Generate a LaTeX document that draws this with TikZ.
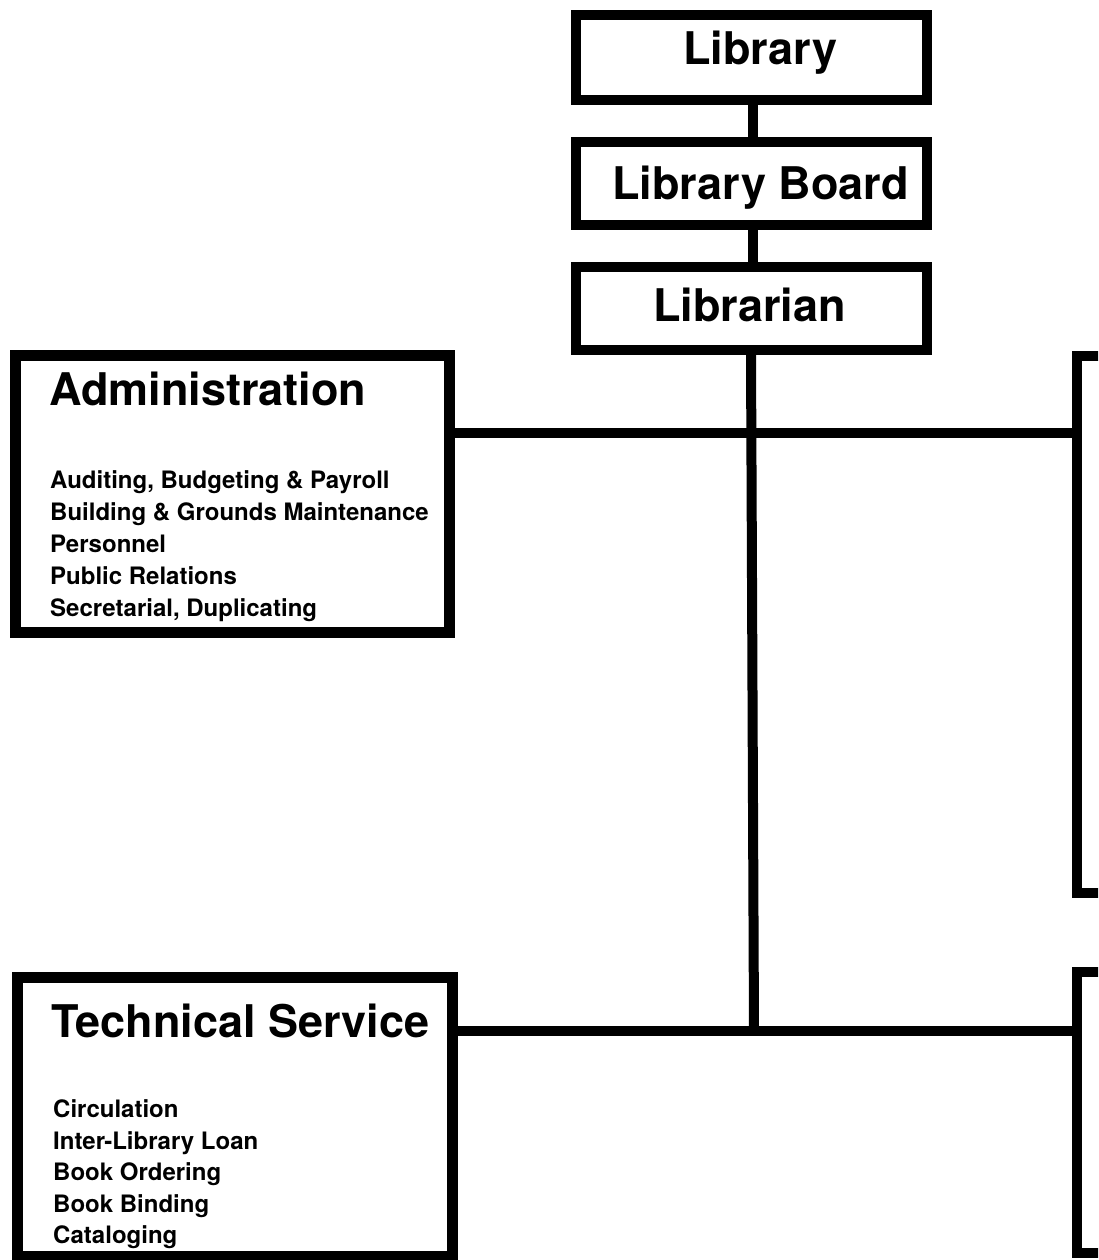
\documentclass[tikz,border=0pt]{standalone}
\usepackage{fontspec}
\setmainfont{TeX Gyre Heros}
\begin{document}
\begin{tikzpicture}[x=1pt,y=-1pt,
  box/.style={draw=black, line width=10pt, fill=none, inner sep=0pt, rectangle},
  bigbox/.style={box, line width=11pt},
  link/.style={draw=black, line width=10pt},
  title/.style={anchor=base west, inner sep=0pt, font=\fontsize{45}{50}\selectfont\bfseries},
  item/.style={anchor=base west, inner sep=0pt, font=\fontsize{24}{28}\selectfont\bfseries}]
\path[use as bounding box, clip] (0,0) rectangle (1098,1260);
\fill[white] (0,0) rectangle (1098,1260);
% top chain boxes
\node[box, minimum width=351pt, minimum height=85pt] (lib) at (751.5,57.5) {};
\node[box, minimum width=351pt, minimum height=83pt] (board) at (751.5,183.5) {};
\node[box, minimum width=351pt, minimum height=83pt] (libr) at (751.5,308.5) {};
\node[title] (tlib) at (683,65) {Library};
\node[title] (tboard) at (612,200) {Library Board};
\node[title] (tlibr) at (653,321) {Librarian};
% departments
\node[bigbox, minimum width=434pt, minimum height=277pt] (admin) at (232.5,494) {};
\node[bigbox, minimum width=435pt, minimum height=279pt] (tech) at (235,1117) {};
\node[box, minimum width=346pt, minimum height=537pt] (rb1) at (1250,624.5) {};
\node[box, minimum width=346pt, minimum height=281pt] (rb2) at (1250,1112.5) {};
\node[title] (tadmin) at (49,405) {Administration};
\node[item] (a1) at (50,488) {Auditing, Budgeting \& Payroll};
\node[item] (a2) at (50,520) {Building \& Grounds Maintenance};
\node[item] (a3) at (50,552) {Personnel};
\node[item] (a4) at (50,584) {Public Relations};
\node[item] (a5) at (50,616) {Secretarial, Duplicating};
\node[title] (ttech) at (51,1037) {Technical Service};
\node[item] (t1) at (53,1117) {Circulation};
\node[item] (t2) at (53,1149) {Inter-Library Loan};
\node[item] (t3) at (53,1180) {Book Ordering};
\node[item] (t4) at (53,1212) {Book Binding};
\node[item] (t5) at (53,1243) {Cataloging};
% connectors
\coordinate (j1) at (751,433);
\coordinate (j2) at (754,1031);
\draw[link] (lib.south -| 753,0) -- (board.north -| 753,0);
\draw[link] (board.south -| 753,0) -- (libr.north -| 753,0);
\draw[link] (libr.south -| j1) -- (j2 |- j2);
\draw[link] (admin.east |- j1) -- (rb1.west |- j1);
\draw[link] (tech.east |- j2) -- (rb2.west |- j2);
\end{tikzpicture}
\end{document}
